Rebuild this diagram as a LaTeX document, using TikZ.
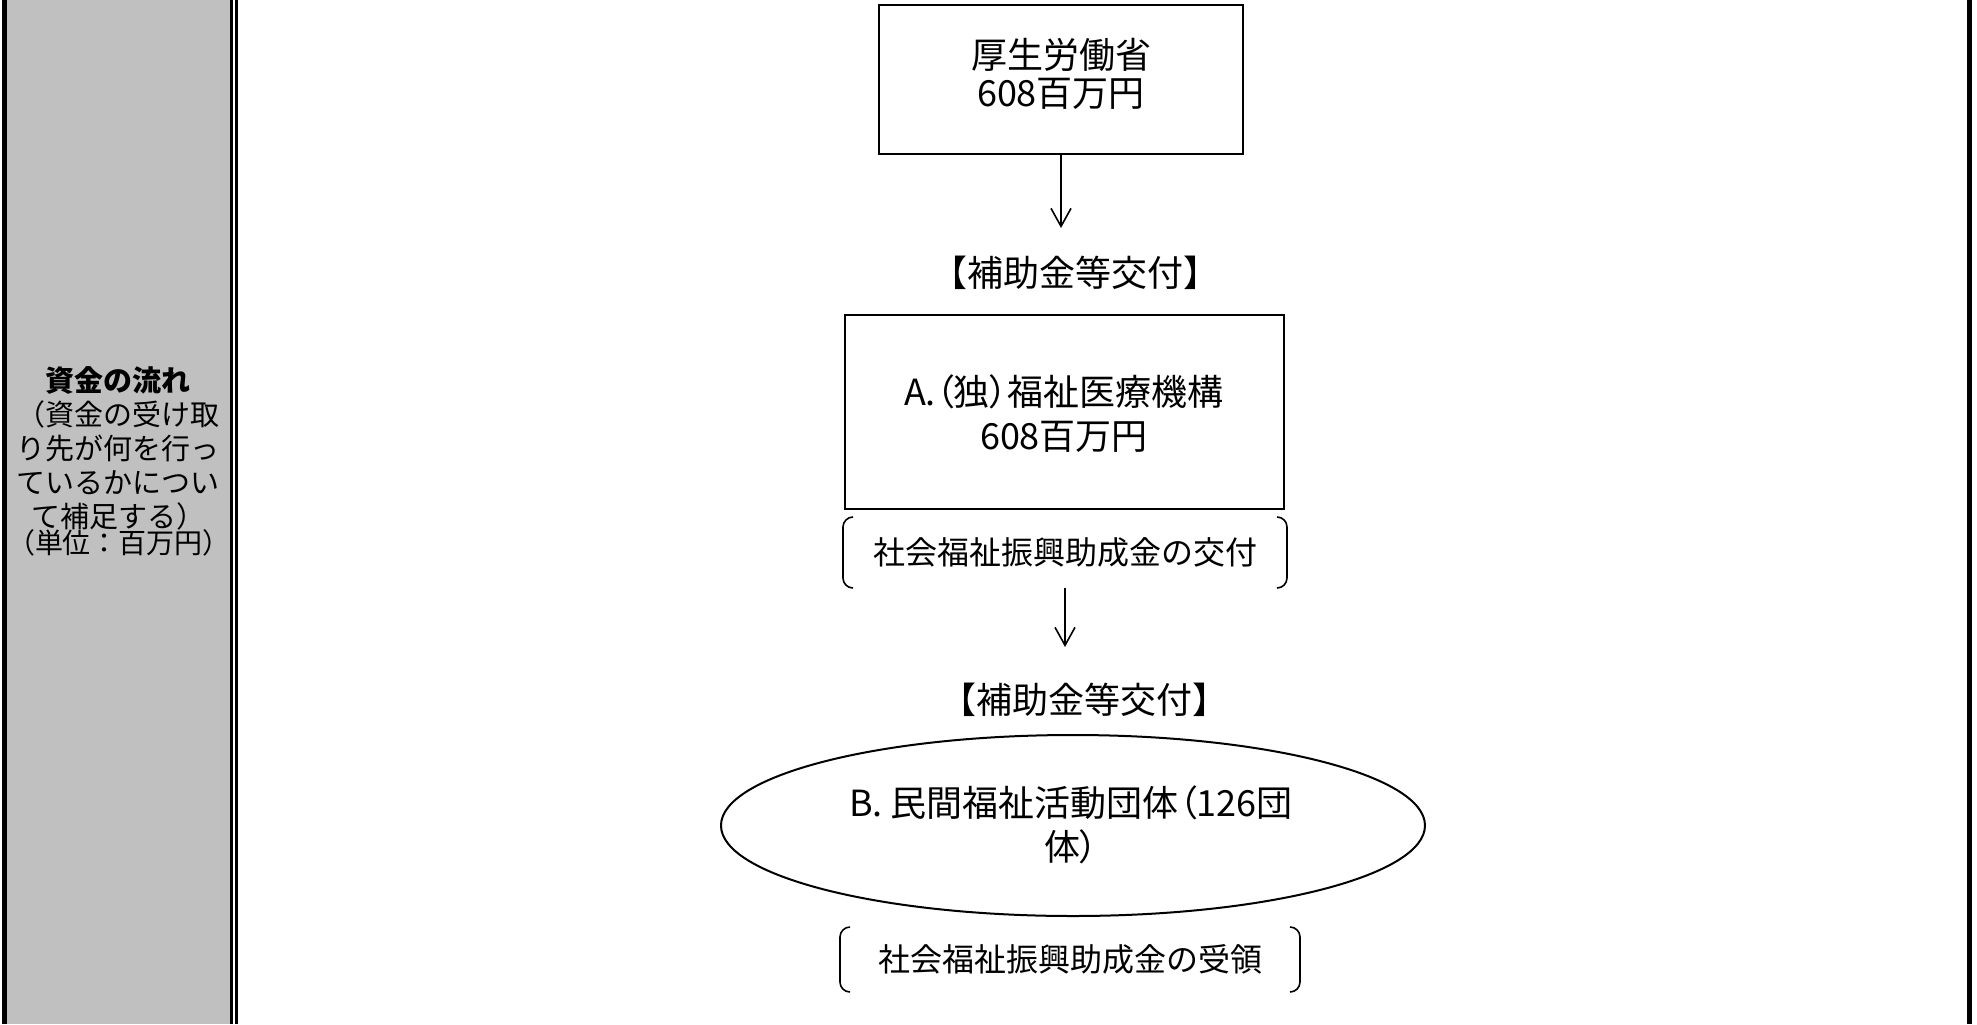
\documentclass[tikz,border=0pt]{standalone}
\usepackage{fontspec}
\setmainfont{Noto Sans CJK JP}
\newfontfamily\jpp{Noto Sans CJK JP}[RawFeature=+palt]
\usetikzlibrary{arrows.meta,shapes.geometric}
\definecolor{panelgray}{HTML}{C0C0C0}
\tikzset{
  boxnode/.style={draw, line width=1pt, rectangle, inner sep=0pt, outer sep=0pt},
  ovalnode/.style={draw, line width=1pt, ellipse, inner sep=0pt, outer sep=0pt},
  txt/.style={align=center, inner sep=0pt, outer sep=0pt},
  flow/.style={draw, line width=0.8pt, -{Straight Barb[length=9pt,width=10pt,line width=0.8pt]}},
  bracketline/.style={draw, line width=0.8pt, rounded corners=5pt},
  bigtext/.style={font=\fontsize{18pt}{19pt}\selectfont},
  midtext/.style={font=\fontsize{16pt}{18pt}\selectfont},
}
\begin{document}
\begin{tikzpicture}[x=0.5pt,y=-0.5pt]
\useasboundingbox (0,0) rectangle (1977,1024);
% left panel
\fill[panelgray] (4,0) rectangle (232,1024);
\draw[line width=2.5pt] (4.5,0) -- (4.5,1024);
\draw[line width=1.5pt] (231.5,0) -- (231.5,1024);
\draw[line width=1.5pt] (236.5,0) -- (236.5,1024);
\draw[line width=2.5pt] (1969.5,0) -- (1969.5,1024);
\node[txt, font=\fontsize{14.5pt}{17pt}\selectfont] (flowtitle) at (118.5,448)
  {\textbf{資金の流れ}\\（資金の受け取\\り先が何を行っ\\ているかについ\\て補足する）};
\node[txt, font=\fontsize{14pt}{16pt}\selectfont] (unit) at (119,543) {（単位：百万円）};
% ministry
\node[boxnode, minimum width=182pt, minimum height=74.5pt] (mhlw) at (1061,79.5) {};
\node[txt, bigtext] (mhlwtext) at (1061,74) {厚生労働省\\608百万円};
\coordinate (a1end) at (1061,228);
\draw[flow] (mhlw.south) -- (a1end);
\node[txt, bigtext] (lab1) at (1075,273) {【補助金等交付】};
% A
\node[boxnode, minimum width=219.5pt, minimum height=97pt] (orgA) at (1064.5,412) {};
\node[txt, font={\jpp\fontsize{18pt}{22pt}\selectfont}] (orgAtext) at (1064,414) {A.（独）福祉医療機構\\608百万円};
\node[txt, midtext, minimum width=222pt, minimum height=35.5pt] (br1) at (1065,552.5) {社会福祉振興助成金の交付};
\draw[bracketline] ([xshift=5pt]br1.north west) -- (br1.north west) -- (br1.south west) -- ([xshift=5pt]br1.south west);
\draw[bracketline] ([xshift=-5pt]br1.north east) -- (br1.north east) -- (br1.south east) -- ([xshift=-5pt]br1.south east);
\coordinate (a2end) at (1065,647);
\draw[flow] (br1.south) -- (a2end);
\node[txt, bigtext] (lab2) at (1084,700) {【補助金等交付】};
% B
\node[ovalnode, minimum width=352pt, minimum height=90.5pt] (orgB) at (1073,825.5) {};
\node[txt, font={\jpp\fontsize{18pt}{22pt}\selectfont}] (orgBtext) at (1071,825) {B. 民間福祉活動団体（126団\\体）};
\node[txt, midtext, minimum width=230pt, minimum height=32.5pt] (br2) at (1070,959.5) {社会福祉振興助成金の受領};
\draw[bracketline] ([xshift=5pt]br2.north west) -- (br2.north west) -- (br2.south west) -- ([xshift=5pt]br2.south west);
\draw[bracketline] ([xshift=-5pt]br2.north east) -- (br2.north east) -- (br2.south east) -- ([xshift=-5pt]br2.south east);
\end{tikzpicture}
\end{document}
